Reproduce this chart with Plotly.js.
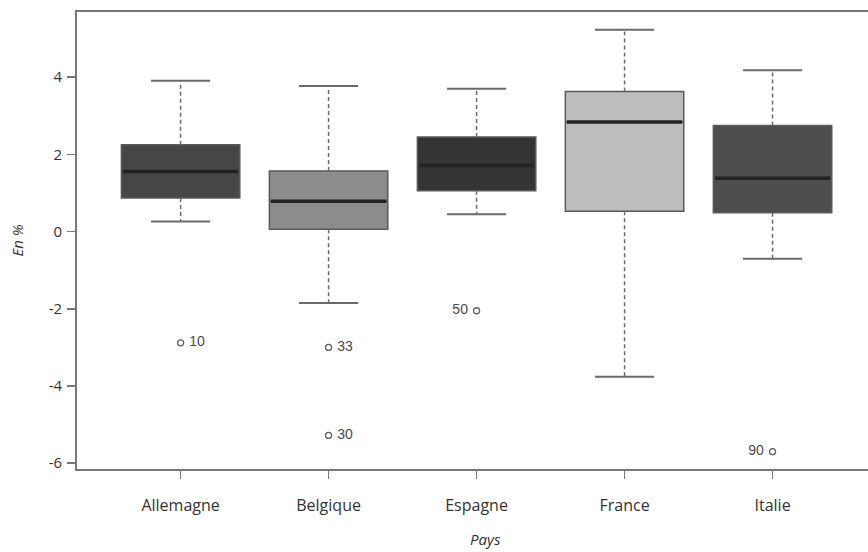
<!DOCTYPE html>
<html>
<head>
<meta charset="utf-8">
<script src="https://cdn.plot.ly/plotly-3.0.1.min.js"></script>
<style>html,body{margin:0;padding:0;background:#fff;}#chart{width:868px;height:552px;}</style>
</head>
<body>
<div id="chart"></div>
<script>
// Data
var pays = ["Allemagne", "Belgique", "Espagne", "France", "Italie"];
var lowerWhisker = [0.26, -1.85, 0.45, -3.76, -0.70];
var q1 = [0.87, 0.06, 1.06, 0.53, 0.49];
var median = [1.56, 0.79, 1.71, 2.84, 1.38];
var q3 = [2.25, 1.57, 2.45, 3.63, 2.75];
var upperWhisker = [3.91, 3.77, 3.70, 5.23, 4.18];
var outlierPays = [0, 1, 1, 2, 4];
var outlierValues = [-2.88, -3.00, -5.28, -2.05, -5.70];
var outlierLabels = ["10", "33", "30", "50", "90"];
var outlierSide = ["right", "right", "right", "left", "left"];
var yTickVals = [-6, -4, -2, 0, 2, 4];
var yTickText = ["-6", "-4", "-2", "0", "2", "4"];
var fills = ["#464646", "#8c8c8c", "#343434", "#bdbdbd", "#4e4e4e"];

var BOXW = 0.8, CAPW = 0.4;
var traces = [];
var idx = pays.map(function(_, i){ return i; });

// boxes
idx.forEach(function(i){
  traces.push({
    type: "box",
    x: [i], q1: [q1[i]], median: [median[i]], q3: [q3[i]],
    lowerfence: [q1[i]], upperfence: [q3[i]],
    width: BOXW, whiskerwidth: 0,
    fillcolor: fills[i],
    line: {color: "#5a5a5a", width: 1.5},
    boxpoints: false, showlegend: false, hoverinfo: "skip"
  });
});
// whiskers, caps, medians
idx.forEach(function(i){
  traces.push({
    type: "scatter", mode: "lines",
    x: [i, i, null, i, i],
    y: [q3[i], upperWhisker[i], null, q1[i], lowerWhisker[i]],
    line: {color: "#6a6a6a", width: 1.5, dash: "4px,3px"},
    showlegend: false, hoverinfo: "skip"
  });
  traces.push({
    type: "scatter", mode: "lines",
    x: [i - CAPW/2, i + CAPW/2, null, i - CAPW/2, i + CAPW/2],
    y: [upperWhisker[i], upperWhisker[i], null, lowerWhisker[i], lowerWhisker[i]],
    line: {color: "#6a6a6a", width: 2},
    showlegend: false, hoverinfo: "skip"
  });
  traces.push({
    type: "scatter", mode: "lines",
    x: [i - BOXW/2 + 0.01, i + BOXW/2 - 0.01],
    y: [median[i], median[i]],
    line: {color: "#222222", width: 3.5},
    showlegend: false, hoverinfo: "skip"
  });
});
// outliers
traces.push({
  type: "scatter", mode: "markers+text",
  x: outlierPays, y: outlierValues,
  text: outlierLabels.map(function(t, k){ return outlierSide[k] === "right" ? " " + t : t + " "; }),
  textposition: outlierSide.map(function(s){ return s === "right" ? "middle right" : "middle left"; }),
  textfont: {family: "Liberation Sans, Arial, sans-serif", size: 14, color: "#4a4a4a"},
  marker: {symbol: "circle-open", size: 6, color: "#606060", line: {width: 1.3}},
  showlegend: false, hoverinfo: "skip"
});

var layout = {
  width: 868, height: 552,
  margin: {l: 77, r: 0, t: 12, b: 83},
  paper_bgcolor: "#ffffff", plot_bgcolor: "#ffffff",
  font: {family: "Open Sans, sans-serif", color: "#333333"},
  xaxis: {
    range: [-0.7, 4.645],
    tickmode: "array", tickvals: idx, ticktext: pays,
    ticks: "outside", ticklen: 8, tickwidth: 1.5, tickcolor: "#777777",
    showline: true, linecolor: "#777777", linewidth: 1.8, mirror: true,
    showgrid: false, zeroline: false,
    tickfont: {size: 16, color: "#333333"},
    ticklabelstandoff: 13
  },
  yaxis: {
    range: [-6.15, 5.69],
    tickmode: "array", tickvals: yTickVals, ticktext: yTickText,
    ticks: "outside", ticklen: 8, tickwidth: 1.5, tickcolor: "#777777",
    showline: true, linecolor: "#777777", linewidth: 1.8, mirror: false,
    showgrid: false, zeroline: false,
    tickfont: {size: 15, color: "#333333"},
    ticklabelstandoff: 2,
    title: {text: "<i>En %</i>", font: {size: 15, color: "#333333"}, standoff: 21}
  },
  annotations: [{
    text: "<i>Pays</i>", xref: "paper", yref: "paper",
    x: 0.516, y: -0.1794, xanchor: "center", yanchor: "bottom",
    showarrow: false, font: {size: 15, color: "#333333"}
  }],
  showlegend: false
};

Plotly.newPlot("chart", traces, layout, {displayModeBar: false, staticPlot: true});
</script>
</body>
</html>
